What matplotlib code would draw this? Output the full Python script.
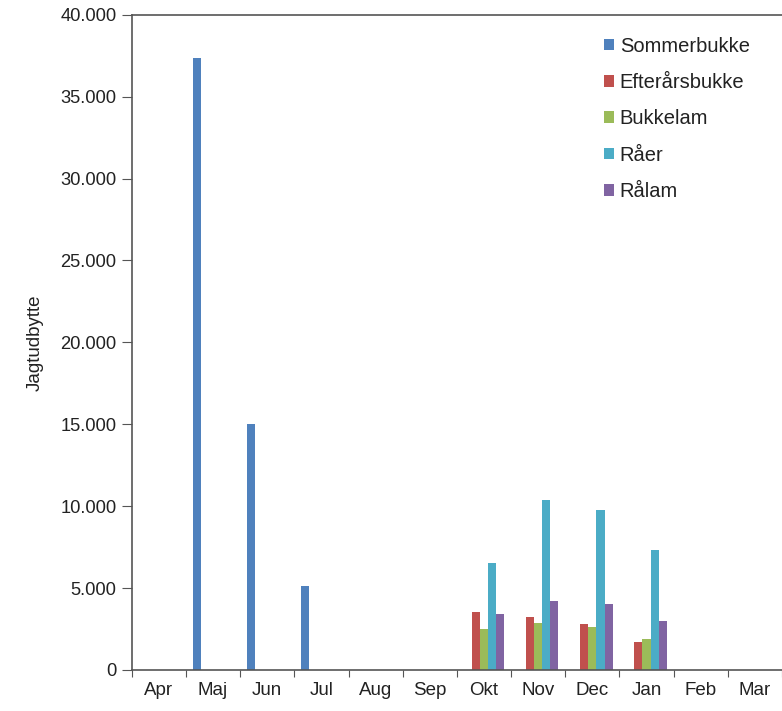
import numpy as np
import matplotlib.pyplot as plt
from matplotlib.ticker import FuncFormatter

# ── Data ────────────────────────────────────────────────
months = ['Apr', 'Maj', 'Jun', 'Jul', 'Aug', 'Sep',
          'Okt', 'Nov', 'Dec', 'Jan', 'Feb', 'Mar']

sommerbukke    = [0, 37350, 15000, 5100, 0, 0, 0, 0, 0, 0, 0, 0]
efteraarsbukke = [0, 0, 0, 0, 0, 0, 3530, 3220, 2800, 1730, 0, 0]
bukkelam       = [0, 0, 0, 0, 0, 0, 2510, 2860, 2610, 1910, 0, 0]
raaer          = [0, 0, 0, 0, 0, 0, 6560, 10400, 9790, 7320, 0, 0]
raalam         = [0, 0, 0, 0, 0, 0, 3390, 4220, 4020, 3010, 0, 0]

series = [
    ('Sommerbukke',    sommerbukke,    '#4F81BD'),
    ('Efterårsbukke',  efteraarsbukke, '#C0504D'),
    ('Bukkelam',       bukkelam,       '#9BBB59'),
    ('Råer',           raaer,          '#4BACC6'),
    ('Rålam',          raalam,         '#8064A2'),
]

# ── Figure ──────────────────────────────────────────────
plt.rcParams['font.family'] = ['Liberation Sans', 'DejaVu Sans']
fig = plt.figure(figsize=(7.82, 7.11), dpi=100)
ax = fig.add_axes([0.1685, 0.0577, 0.8315, 0.9215])

x = np.arange(len(months))
w = 0.15
for i, (name, vals, col) in enumerate(series):
    ax.bar(x + (i - 2) * w, vals, width=w, color=col, label=name, linewidth=0)

ax.set_xlim(-0.5, 11.41)
ax.set_ylim(0, 40000)
ax.set_yticks(np.arange(0, 40001, 5000))
ax.yaxis.set_major_formatter(FuncFormatter(lambda v, p: f'{int(v):,}'.replace(',', '.')))

# category axis: ticks on the boundaries, labels in the middle
ax.set_xticks(np.arange(-0.5, 12, 1))
ax.set_xticklabels([])
ax.set_xticks(x, minor=True)
ax.set_xticklabels(months, minor=True)
ax.tick_params(axis='x', which='minor', length=0, pad=9, labelsize=13.5, colors='#222222')
ax.tick_params(axis='x', which='major', direction='out', length=5, color='#555555')
ax.tick_params(axis='y', direction='out', length=7, color='#555555', labelsize=13.2,
               labelcolor='#222222', pad=4)

ax.spines['right'].set_visible(False)
for s in ['left', 'bottom', 'top']:
    ax.spines[s].set_color('#555555')
    ax.spines[s].set_linewidth(1.2)

ax.set_ylabel('Jagtudbytte', fontsize=13.5, color='#222222', labelpad=12)

leg = ax.legend(loc='upper right', bbox_to_anchor=(0.972, 0.988), frameon=False,
                fontsize=14.5, handlelength=0.5, handleheight=0.5, handletextpad=0.3,
                labelspacing=0.86, borderaxespad=0.3)
for t in leg.get_texts():
    t.set_color('#222222')

fig.savefig('out.png', dpi=100)
